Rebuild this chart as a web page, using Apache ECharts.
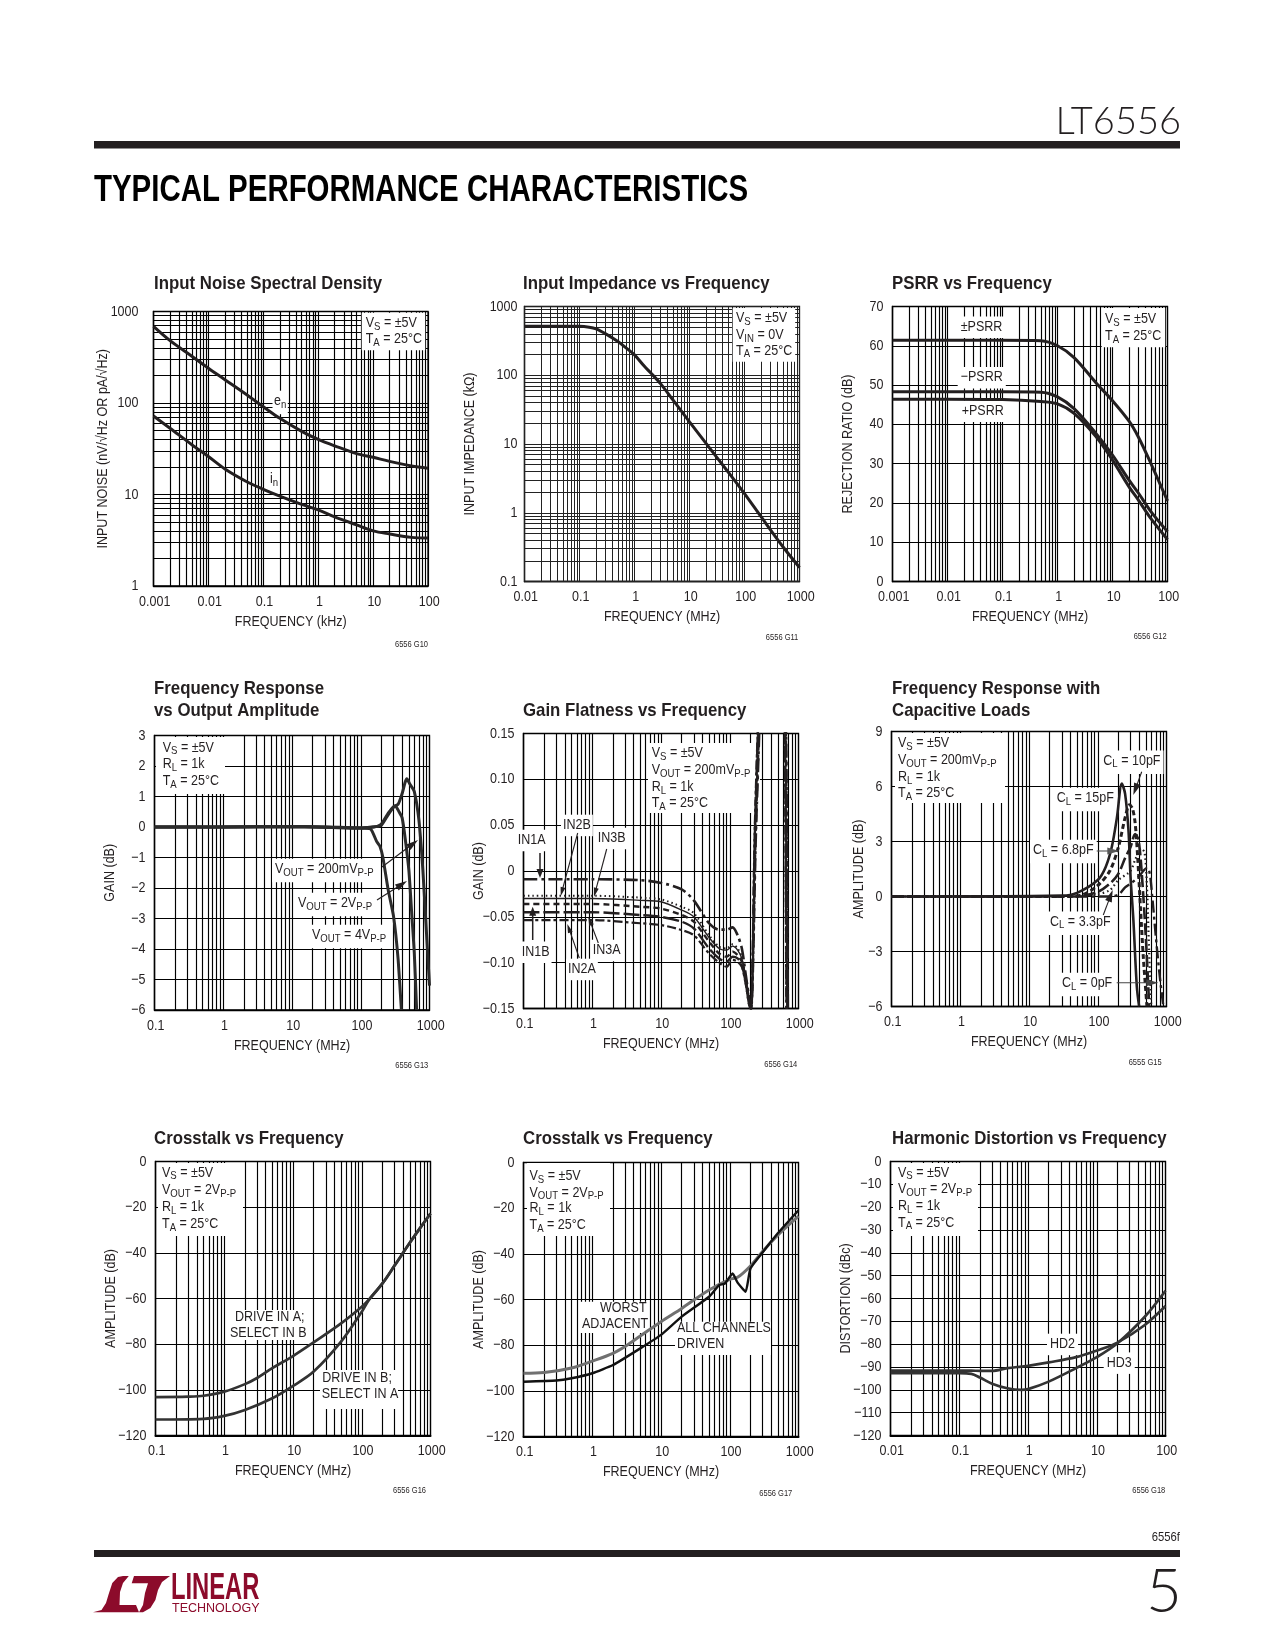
<!DOCTYPE html>
<html><head><meta charset="utf-8">
<style>html,body{margin:0;padding:0;background:#fff}#c{width:1275px;height:1650px}</style>
<script src="https://cdn.jsdelivr.net/npm/echarts@6/dist/echarts.min.js"></script></head>
<body><div id="c"></div>
<script>
// ---------- data ----------
const noiseFreq=[0.001,0.002,0.005,0.01,0.02,0.05,0.1,0.2,0.5,1,2,5,10,20,50,100];
const noiseEn=[686,480,325,240,180,123,91,68,49,40,34,28,25.5,23,20.5,19.4];
const noiseIn=[72,53,35,26,19,13.8,11.4,9.6,7.8,6.8,5.7,4.65,4,3.7,3.4,3.35];

const zFreq=[0.01,0.05,0.1,0.15,0.2,0.3,0.5,0.7,1,1.5,2,3,5,10,20,50,100,200,500,1000];
const zIn=[518,518,516,500,473,400,309,250,198,136,107,75,43.7,21,10.2,3.95,1.9,0.875,0.32,0.16];

const psrrFreq=[0.001,0.01,0.1,0.5,1,2,5,10,20,30,50,100];
const psrrBoth=[61.4,61.4,61.4,61.3,60,57,50.6,46,40.8,36.6,30,20.5];
const psrrNeg=[48.3,48.3,48.3,48.2,47,44,37.7,32.2,25.8,22.4,17.8,12.7];
const psrrPos=[46.4,46.4,46.3,45.8,45.2,42.8,36.9,30.9,24.1,20.6,16,10.7];

const fr200F=[0.1,1,10,100,150,175,200,250,300,350,400,440,467,520,600,700,800,900,1000];
const fr200V=[0,0,0.02,-0.03,0,0.02,0.06,0.4,0.65,0.75,1.1,1.45,1.58,1.4,1.17,0.24,-1.4,-3.4,-5.2];
const fr2F=[0.1,1,10,100,150,175,200,250,315,360,400,450,500,550,600,650];
const fr2V=[0,0,0.02,-0.03,0,0.02,0.1,0.45,0.7,0.5,0.3,-0.5,-1.4,-2.8,-4.1,-6];
const fr4F=[0.1,1,10,100,140,170,190,210,250,300,350,390];
const fr4V=[0,0,0.02,-0.03,-0.07,-0.47,-0.63,-1,-2.05,-2.93,-4.35,-6];

const gfFreq=[0.1,1,5,10,20,30,50,70,90,110,130,150,170,200,205];
const gfIN1A=[-0.009,-0.009,-0.01,-0.013,-0.02,-0.032,-0.057,-0.064,-0.064,-0.0615,-0.07,-0.0845,-0.112,-0.148,-0.15];
const gfIN2B=[-0.027,-0.027,-0.029,-0.031,-0.039,-0.046,-0.07,-0.0826,-0.0845,-0.08,-0.0845,-0.0936,-0.115,-0.148,-0.15];
const gfIN3B=[-0.03,-0.03,-0.032,-0.0335,-0.0426,-0.05,-0.0725,-0.0845,-0.0863,-0.082,-0.0863,-0.0954,-0.115,-0.148,-0.15];
const gfIN1B=[-0.036,-0.036,-0.039,-0.041,-0.048,-0.0553,-0.077,-0.09,-0.0936,-0.088,-0.0917,-0.099,-0.117,-0.149,-0.15];
const gfIN3A=[-0.045,-0.045,-0.048,-0.05,-0.0553,-0.0626,-0.0845,-0.0954,-0.099,-0.0936,-0.0954,-0.1027,-0.121,-0.15,-0.15];
const gfIN2A=[-0.0535,-0.0535,-0.057,-0.059,-0.0644,-0.07,-0.09,-0.1,-0.1045,-0.097,-0.099,-0.1045,-0.1227,-0.15,-0.15];
const gfTailF1A=[240,268,400,620,660,700];
const gfTailF2B=[236,262,400,610,650,690];
const gfTailF3B=[234,258,400,605,640,680];
const gfTailF1B=[238,265,400,615,655,695];
const gfTailF3A=[232,256,400,600,635,670];
const gfTailF2A=[230,254,400,598,630,665];
const gfTailV=[0.041,0.15,0.6,0.2,0.15,-0.15];

const cl15=[[0.1,0],[30,0.05],[50,0.2],[100,0.9],[130,1.6],[160,2.7],[190,4.3],[224,6.16],[250,5.6],[280,3.6],[300,1.07],[330,-1.3],[370,-4.9],[400,-6]];
const cl10=[[0.1,0],[30,0],[60,0.1],[100,0.6],[150,1.4],[200,2.7],[250,4.3],[290,5],[320,4.8],[350,4],[380,2.2],[420,-0.75],[460,-3.3],[520,-6]];
const cl68=[[0.1,0],[50,0],[100,0.25],[150,0.7],[200,1.25],[250,2.1],[300,2.7],[350,3.4],[390,3.1],[430,1.6],[500,-2.2],[560,-6]];
const cl33=[[0.1,0],[50,0],[100,0.13],[150,0.35],[200,0.9],[300,1.4],[350,2],[430,2.6],[480,2.4],[520,0.5],[560,-3.1],[600,-6]];
const cl0=[[0.1,0],[100,0],[150,0],[200,0.1],[250,0.5],[300,0.7],[400,1.1],[500,1.5],[560,1.4],[620,0],[700,-2.2],[800,-4.4],[900,-6]];

const xtAF=[0.1,0.3,0.5,1,2,3,5,10,20,50,100,130,200,300,500,700,1000];
const xtAV=[-103.2,-103,-102.6,-100.8,-97.5,-94.8,-90.5,-85.2,-79.2,-70.9,-63.6,-60.2,-53.4,-45.6,-35.6,-29.3,-22.8];
const xtBF=[0.1,0.5,1,2,5,10,20,50,100,130,200,300,500,700,1000];
const xtBV=[-113,-112.7,-111.4,-108.8,-103.7,-98.3,-92,-78.9,-65.8,-60.2,-53.4,-45.6,-35.6,-29.3,-22.8];

const wF=[0.1,0.2,0.5,1,2,3,5,10,20,50,100,130,200,300,500,1000];
const wV=[-92.3,-92,-90,-87,-83.6,-80.6,-76,-69.7,-63.9,-55.8,-51.2,-50.3,-45.3,-39,-31.8,-23.5];
const aF=[0.1,0.3,0.5,1,2,5,10,20,50,70,85,110,130,170,200,300,500,1000];
const aV=[-96,-95.5,-94.5,-92.3,-88.7,-81.4,-75.5,-67.5,-58.8,-53.7,-53,-48.6,-52.6,-56.6,-46.4,-39.4,-31,-20.9];

const hdF=[0.01,0.1,0.15,0.2,0.3,0.5,0.8,1,2,5,10,20,50,100];
const hd2=[-91.6,-91.6,-91.6,-91.7,-91.7,-90.5,-89.8,-89.5,-88,-85.7,-82.8,-79.3,-71.6,-63.3];
const hd3=[-92.7,-92.7,-93,-94.6,-97.3,-99.3,-100,-99.7,-96.4,-90.5,-85.7,-79.6,-68,-56.6];

const gfTick={'0.15':'0.15','0.1':'0.10','0.05':'0.05','0':'0','-0.05':'−0.05','-0.1':'−0.10','-0.15':'−0.15'};

// ---------- helpers ----------
const NAR="'Liberation Sans',sans-serif";
const CX=0.835;
const zip=(a,b)=>a.map((v,i)=>[v,b[i]]);
const els=[];
const mctx=document.createElement('canvas').getContext('2d');
function runs(s){const o=[];let m,re=/_\{([^}]+)\}/g,l=0;while((m=re.exec(s))){if(m.index>l)o.push([s.slice(l,m.index),0]);o.push([m[1],1]);l=re.lastIndex;}if(l<s.length)o.push([s.slice(l),0]);return o;}
function T(x,cy,s,o={}){
  const size=o.size||15,w=o.weight||'normal',fam=o.fam||NAR,fill=o.fill||'#231f20',sc=o.scale||CX;
  const parts=runs(s);let tot=0;
  parts.forEach(p=>{mctx.font=`${w} ${p[1]?size-3.5:size}px ${fam}`;p[2]=mctx.measureText(p[0]).width*sc;tot+=p[2];});
  let cx=o.right?x-tot:x;
  if(o.box){const b=o.box===true?3:o.box;rect(cx-b,cy-size*0.62-1,tot+2*b,size*1.3+2+(parts.length>1?2:0));}
  parts.forEach(p=>{
    els.push({type:'text',x:cx,y:cy+(p[1]?3.5:0),scaleX:sc,z:20,silent:true,style:{text:p[0],font:`${w} ${p[1]?size-3.5:size}px ${fam}`,fill,verticalAlign:'middle',align:'left'}});
    cx+=p[2];
  });
}
function rect(x,y,w,h){els.push({type:'rect',shape:{x,y,width:w,height:h},z:5,silent:true,style:{fill:'#fff'}});}
function arrow(x1,y1,x2,y2,o={}){
  const col=o.color||'#231f20',lw=o.w||1.1,L=o.len||12,W=o.hw||3.5;
  const a=Math.atan2(y2-y1,x2-x1),c=Math.cos(a),s=Math.sin(a);
  els.push({type:'line',shape:{x1,y1,x2:x2-c*L*0.7,y2:y2-s*L*0.7},z:18,silent:true,style:{stroke:col,lineWidth:lw}});
  els.push({type:'polygon',shape:{points:[[x2,y2],[x2-c*L-s*W,y2-s*L+c*W],[x2-c*L+s*W,y2-s*L-c*W]]},z:18,silent:true,style:{fill:col}});
}
const decades=(a,b)=>{const r=[];for(let d=a;d<b;d++){for(let k=1;k<10;k++)r.push(+(k*Math.pow(10,d)).toPrecision(3));}r.push(Math.pow(10,b));return r;};

const CH=[
 {l:153.5,t:311.5,w:274.5,h:274.5,xd:[-3,2],xname:'FREQUENCY (kHz)',yname:'INPUT NOISE (nV/√Hz OR pA/√Hz)',yLog:[0,3],ygap:50,lm:15,gc:'#000',lw:1.15},
 {l:524.5,t:306.5,w:275,h:275,xd:[-2,3],xname:'FREQUENCY (MHz)',yname:'INPUT IMPEDANCE (kΩ)',yLog:[-1,3],ygap:54,lm:7,gc:'#222',lw:1},
 {l:892.5,t:306.5,w:275,h:275,xd:[-3,2],xname:'FREQUENCY (MHz)',yname:'REJECTION RATIO (dB)',yr:[0,70,10],ygap:44,lm:9,gc:'#000',lw:1.15},
 {l:154.5,t:735.5,w:275,h:274.5,xd:[-1,3],xname:'FREQUENCY (MHz)',yname:'GAIN (dB)',yr:[-6,3,1],ygap:44,lm:9,gc:'#000',lw:1.15},
 {l:523.5,t:733.5,w:275,h:275,xd:[-1,3],xname:'FREQUENCY (MHz)',yname:'GAIN (dB)',yr:[-0.15,0.15,0.05],ygap:44,lm:9,gc:'#000',lw:1.15,fmt:v=>gfTick[String(+v.toFixed(2))]},
 {l:891.5,t:731.5,w:275,h:275,xd:[-1,3],xname:'FREQUENCY (MHz)',yname:'AMPLITUDE (dB)',yr:[-6,9,3],ygap:32,lm:9,gc:'#000',lw:1.15},
 {l:155.5,t:1161.5,w:275,h:274,xd:[-1,3],xname:'FREQUENCY (MHz)',yname:'AMPLITUDE (dB)',yr:[-120,0,20],ygap:44,lm:9,gc:'#000',lw:1.15,bot:2},
 {l:523.5,t:1162.5,w:275,h:274,xd:[-1,3],xname:'FREQUENCY (MHz)',yname:'AMPLITUDE (dB)',yr:[-120,0,20],ygap:44,lm:9,gc:'#000',lw:1.15,bot:2},
 {l:890.5,t:1161.5,w:275,h:274,xd:[-2,2],xname:'FREQUENCY (MHz)',yname:'DISTORTION (dBc)',yr:[-120,0,10],ygap:44,lm:9,gc:'#000',lw:1.15,bot:2}
];
const K='#231f20';
const S=(data,o={})=>({data,lw:o.lw||3,col:o.col||K,dash:o.dash,smooth:o.smooth===undefined?0.33:o.smooth});
const gfS=(vals,tf,o)=>S(zip(gfFreq.concat(tf),vals.concat(gfTailV)),Object.assign({smooth:0.28},o));
const CURVES=[
 [S(zip(noiseFreq,noiseEn)),S(zip(noiseFreq,noiseIn))],
 [S(zip(zFreq,zIn))],
 [S(zip(psrrFreq,psrrBoth)),S(zip(psrrFreq,psrrNeg)),S(zip(psrrFreq,psrrPos))],
 [S(zip(fr200F,fr200V),{smooth:0.25,lw:3,col:'#2b2b2b'}),S(zip(fr2F,fr2V),{smooth:0.25,lw:3,col:'#2b2b2b'}),S(zip(fr4F,fr4V),{smooth:0.15,lw:3,col:'#2b2b2b'})],
 [gfS(gfIN1A,gfTailF1A,{dash:[14,4,3,4],lw:2.6}),
  gfS(gfIN2B,gfTailF2B,{dash:[1.5,3],lw:2}),
  gfS(gfIN3B,gfTailF3B,{lw:1.4}),
  gfS(gfIN1B,gfTailF1B,{dash:[6,4],lw:2.4}),
  gfS(gfIN3A,gfTailF3A,{dash:[16,4],lw:2.4}),
  gfS(gfIN2A,gfTailF2A,{dash:[9,3,3,3],lw:2.2})],
 [S(cl15,{lw:2.6,smooth:0.3}),S(cl10,{lw:3,dash:[5,3],smooth:0.3}),S(cl68,{lw:2.6,dash:[12,4],smooth:0.3}),S(cl33,{lw:2.2,dash:[1.5,3],smooth:0.3}),S(cl0,{lw:2.4,dash:[12,4,3,4],smooth:0.3})],
 [S(zip(xtAF,xtAV),{col:'#333',lw:2.7}),S(zip(xtBF,xtBV),{col:'#333',lw:2.7})],
 [S(zip(wF,wV),{col:'#707070',lw:3}),S(zip(aF,aV),{lw:2.4,smooth:0.15,col:'#111'})],
 [S(zip(hdF,hd2),{col:'#333',lw:2.7}),S(zip(hdF,hd3),{col:'#333',lw:2.7})]
];

const grid=[],xAxis=[],yAxis=[],series=[];
CH.forEach((c,i)=>{
  grid.push({left:c.l,top:c.t,width:c.w,height:c.h,show:true,borderColor:'#000',borderWidth:1.3,backgroundColor:'transparent'});
  const xmin=Math.pow(10,c.xd[0]),xmax=Math.pow(10,c.xd[1]);
  xAxis.push({type:'log',logBase:10,gridIndex:i,min:xmin,max:xmax,name:c.xname,nameLocation:'middle',nameGap:28,nameMoveOverlap:false,
    nameTextStyle:{fontFamily:NAR,fontSize:15,color:K},
    axisLine:{show:true,onZero:false,lineStyle:{color:'#000',width:c.bot||1.3}},axisTick:{show:false},splitLine:{show:false},minorTick:{show:false},
    axisLabel:{fontFamily:NAR,fontSize:15,color:K,margin:8,padding:[0,0,0,3],showMinLabel:true,showMaxLabel:true,formatter:v=>String(+(+v).toPrecision(3))}});
  const yb={type:'value',gridIndex:i,name:c.yname,nameLocation:'middle',nameGap:c.ygap-7,nameMoveOverlap:false,
    nameTextStyle:{fontFamily:NAR,fontSize:15,color:K},
    axisLine:{show:true,onZero:false,lineStyle:{color:'#000',width:1.3}},axisTick:{show:false},
    axisLabel:{fontFamily:NAR,fontSize:15,color:K,margin:c.lm,showMinLabel:true,showMaxLabel:true,hideOverlap:false,
      formatter:c.fmt||(v=>String(+(+v).toPrecision(3)).replace('-','−'))}};
  if(c.yLog){yb.type='log';yb.logBase=10;yb.min=Math.pow(10,c.yLog[0]);yb.max=Math.pow(10,c.yLog[1]);yb.splitLine={show:false};}
  else{yb.min=c.yr[0];yb.max=c.yr[1];yb.interval=c.yr[2];yb.splitLine={show:true,lineStyle:{color:c.gc,width:c.lw}};}
  yAxis.push(yb);
  const ml=decades(c.xd[0],c.xd[1]).map(v=>({xAxis:v}));
  if(c.yLog)decades(c.yLog[0],c.yLog[1]).forEach(v=>ml.push({yAxis:v}));
  CURVES[i].forEach((s,j)=>{
    const it={type:'line',xAxisIndex:i,yAxisIndex:i,z:10,data:s.data,showSymbol:false,symbol:'none',smooth:s.smooth,clip:true,animation:false,silent:true,
      lineStyle:{color:s.col,width:s.lw,type:s.dash||'solid',cap:'butt'}};
    if(j===0)it.markLine={silent:true,z:1,animation:false,symbol:'none',precision:6,label:{show:false},emphasis:{disabled:true},lineStyle:{color:c.gc,width:c.lw,type:'solid'},data:ml};
    series.push(it);
  });
});

// ---------- page furniture ----------
els.push({type:'rect',shape:{x:94,y:141,width:1086,height:7.5},z:30,silent:true,style:{fill:'#231f20'}});
els.push({type:'rect',shape:{x:94,y:1550,width:1086,height:7},z:30,silent:true,style:{fill:'#231f20'}});
T(1181,122,'LT6556',{right:true,size:38,fam:"Lato,'Open Sans',sans-serif",weight:300,scale:1});
T(94,191,'TYPICAL PERFORMANCE CHARACTERISTICS',{size:37.5,weight:'bold',fill:'#000',scale:0.785});
T(1180,1537.5,'6556f',{right:true,size:13.5});
T(1182,1592,'5',{right:true,size:62,fam:"Lato,'Open Sans',sans-serif",weight:300,scale:1});
const RED='#8c0b2b';
els.push({type:'polygon',z:30,silent:true,shape:{points:[[93,1612.3],[101.5,1610],[106,1603],[108.7,1594],[112.3,1583],[118,1577],[123,1576],[128.8,1576],[123,1583],[120,1592],[119.5,1605],[136,1605],[139,1612.3]]},style:{fill:RED}});
els.push({type:'polygon',z:30,silent:true,shape:{points:[[134,1576],[170,1576],[162,1582],[158,1590],[155.4,1600],[150.4,1608],[143,1612.3],[139,1612.3],[143,1605],[145,1593],[148,1583.3],[131.7,1583.3]]},style:{fill:RED}});
els.push({type:'text',x:171,y:1589,z:30,silent:true,scaleX:0.66,style:{text:'LINEAR',font:"bold 36px "+NAR,fill:RED,verticalAlign:'middle'}});
els.push({type:'text',x:172,y:1609,z:30,silent:true,style:{text:'TECHNOLOGY',font:"12.5px 'Liberation Sans',sans-serif",fill:RED,verticalAlign:'middle'}});

// ---------- titles ----------
const tt=(x,y,s)=>T(x,y,s,{size:19,weight:'bold',fill:'#231f20',scale:0.885});
tt(154,284,'Input Noise Spectral Density');
tt(523,284,'Input Impedance vs Frequency');
tt(892,284,'PSRR vs Frequency');
tt(154,689,'Frequency Response');tt(154,711,'vs Output Amplitude');
tt(523,711,'Gain Flatness vs Frequency');
tt(892,689,'Frequency Response with');tt(892,711,'Capacitive Loads');
tt(154,1139,'Crosstalk vs Frequency');
tt(523,1139,'Crosstalk vs Frequency');
tt(892,1139,'Harmonic Distortion vs Frequency');
[[428,645,'6556 G10'],[798.3,637.7,'6556 G11'],[1166.7,636.7,'6556 G12'],[428.3,1065.7,'6556 G13'],[797.3,1064.3,'6556 G14'],[1161.7,1062.3,'6555 G15'],[426,1491,'6556 G16'],[792.3,1493.3,'6556 G17'],[1165.3,1491,'6556 G18']]
 .forEach(a=>T(a[0],a[1],a[2],{right:true,size:9}));

// ---------- annotations ----------
rect(361.7,312.7,63.5,37.5);T(365.7,323.3,'V_{S} = ±5V');T(365.7,339.3,'T_{A} = 25°C');
T(274,401,'e_{n}',{box:1.5});T(270,479,'i_{n}',{box:1.5});
rect(732.7,308,62.5,53.7);T(736,318.3,'V_{S} = ±5V');T(736,335,'V_{IN} = 0V');T(736,350.7,'T_{A} = 25°C');
rect(1101.7,308,63.5,39.3);T(1105,319.3,'V_{S} = ±5V');T(1105,336,'T_{A} = 25°C');
T(960.7,326.7,'±PSRR',{box:3});T(960.7,377.3,'−PSRR',{box:3});T(961.7,410.7,'+PSRR',{box:3});

rect(156,737,69,57);T(162.7,747.7,'V_{S} = ±5V');T(162.7,764,'R_{L} = 1k');T(162.7,781,'T_{A} = 25°C');
T(275,869,'V_{OUT} = 200mV_{P-P}',{box:3});T(298,903,'V_{OUT} = 2V_{P-P}',{box:3});T(312,935,'V_{OUT} = 4V_{P-P}',{box:3});
arrow(382,867,418,840);arrow(377,900,407,881);

rect(648,743,112,70);T(651.7,753,'V_{S} = ±5V');T(651.7,770,'V_{OUT} = 200mV_{P-P}');T(651.7,787,'R_{L} = 1k');T(651.7,803,'T_{A} = 25°C');
T(517.7,840,'IN1A',{box:2});T(563,825,'IN2B',{box:2});T(597.7,838,'IN3B',{box:2});T(521.7,951.7,'IN1B',{box:2});T(568,969,'IN2A',{box:2});T(592.7,950,'IN3A',{box:2});
arrow(540,853,540,878,{w:1.5,len:9});arrow(577.7,833,560.7,896,{len:9,hw:2.5});arrow(606.7,849,594,896.7,{len:9,hw:2.5});arrow(532.7,940,532.7,906.7,{w:1.5,len:9});arrow(579.3,958,567.3,924,{len:9,hw:2.5});arrow(598.3,943,588.3,916.7,{len:9,hw:2.5});

rect(895,733,110,70);T(898,743,'V_{S} = ±5V');T(898,760,'V_{OUT} = 200mV_{P-P}');T(898,777,'R_{L} = 1k');T(898,793,'T_{A} = 25°C');
T(1103.3,760.7,'C_{L} = 10pF',{box:3});T(1056.7,798,'C_{L} = 15pF',{box:3});T(1033,850,'C_{L} = 6.8pF',{box:3});T(1050,921.7,'C_{L} = 3.3pF',{box:3});T(1062,983,'C_{L} = 0pF',{box:3});
arrow(1141.7,771.7,1133.3,795);arrow(1096.7,851,1119.3,851,{color:'#555'});arrow(1103.3,915,1112.7,890);arrow(1116.7,982.7,1158.3,982.7,{color:'#444'});

rect(158,1163,85,73);T(162,1172.7,'V_{S} = ±5V');T(162,1190,'V_{OUT} = 2V_{P-P}');T(162,1207.3,'R_{L} = 1k');T(162,1224,'T_{A} = 25°C');
rect(228,1310,77,30);T(235,1316.7,'DRIVE IN A;');T(230,1333.3,'SELECT IN B');
rect(320,1370,78,39);T(322.3,1378,'DRIVE IN B;');T(321.7,1394.3,'SELECT IN A');

rect(527,1163,83,73);T(529.5,1176,'V_{S} = ±5V');T(529.5,1192.7,'V_{OUT} = 2V_{P-P}');T(529.5,1208.3,'R_{L} = 1k');T(529.5,1225,'T_{A} = 25°C');
rect(580,1301.7,67,31.3);T(600,1308,'WORST');T(582,1324,'ADJACENT');
rect(675,1321.7,96,33.3);T(677,1328,'ALL CHANNELS');T(677,1344,'DRIVEN');

rect(893,1163,85,73);T(898,1172.7,'V_{S} = ±5V');T(898,1189.3,'V_{OUT} = 2V_{P-P}');T(898,1206,'R_{L} = 1k');T(898,1222.7,'T_{A} = 25°C');
T(1050,1344,'HD2',{box:3});T(1106.7,1362.7,'HD3',{box:3});

const chart=echarts.init(document.getElementById('c'),null,{renderer:'canvas',width:1275,height:1650});
chart.setOption({animation:false,backgroundColor:'#fff',grid,xAxis,yAxis,series,graphic:{elements:els}});
// The page's axis type is a condensed grotesque: narrow the library's own axis text the same way.
const zr=chart.getZr();
zr.storage.traverse(el=>{if(el.type==='text'&&el.style&&el.style.fontFamily){el.scaleX=CX;el.markRedraw();}});
zr.refreshImmediately();
</script></body></html>
